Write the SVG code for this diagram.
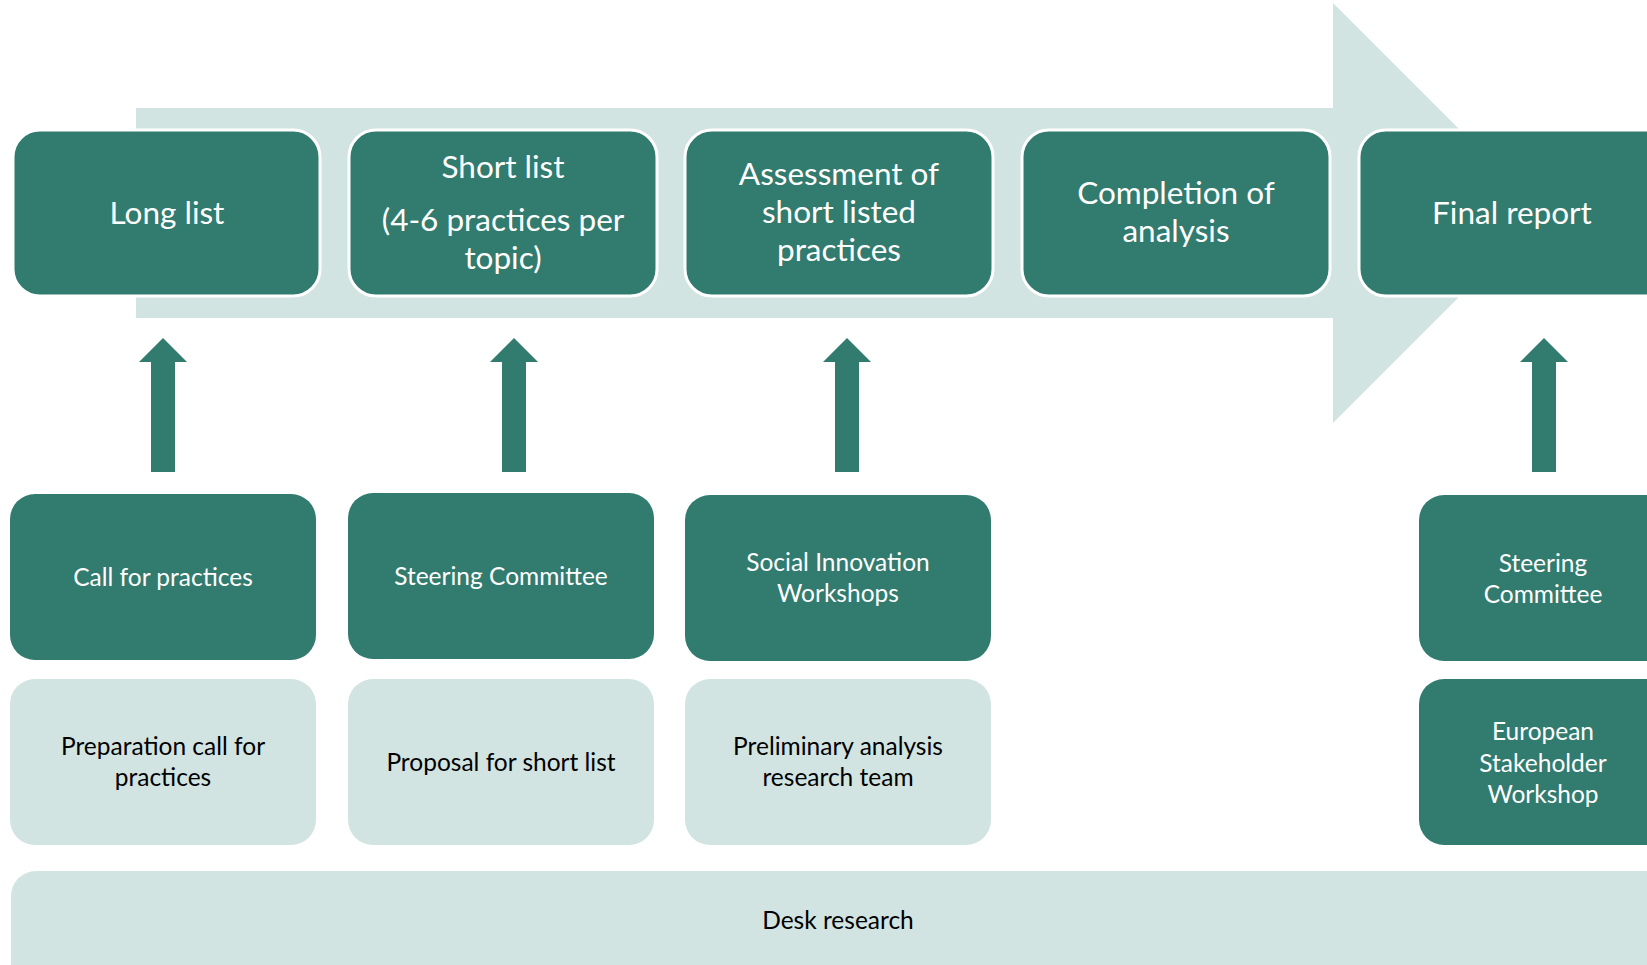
<svg xmlns="http://www.w3.org/2000/svg" width="1647" height="965" viewBox="0 0 1647 965">
<style>
.dk{fill:#327B6F}
.top{fill:#327B6F;stroke:#FFFFFF;stroke-width:3}
.lt{fill:#D2E4E1}
.tw{font-family:Lato,"Open Sans",sans-serif;fill:#FFFFFF;text-anchor:middle}
.tb{font-family:Lato,"Open Sans",sans-serif;fill:#000000;text-anchor:middle}
.big{font-size:31.5px}
.sm{font-size:24.5px}
</style>
<rect width="1647" height="965" fill="#FFFFFF"/>
<g id="process-arrow">
<polygon class="lt" points="136,108 1333,108 1333,3 1543,213 1333,423 1333,318 136,318"/>
</g>
<g id="desk-research">
<rect class="lt" x="11" y="871" width="1680" height="140" rx="25"/>
<text class="tb sm" x="838" y="929">Desk research</text>
</g>
<g id="long-list">
<rect class="top" x="13" y="130" width="307" height="166" rx="27"/>
<text class="tw big" x="167" y="224">Long list</text>
</g>
<g id="short-list">
<rect class="top" x="349" y="130" width="308" height="166" rx="27"/>
<text class="tw big" x="503" y="178">Short list</text>
<text class="tw big" x="503" y="231">(4-6 practices per</text>
<text class="tw big" x="503" y="269">topic)</text>
</g>
<g id="assessment">
<rect class="top" x="685" y="130" width="308" height="166" rx="27"/>
<text class="tw big" x="839" y="185">Assessment of</text>
<text class="tw big" x="839" y="223">short listed</text>
<text class="tw big" x="839" y="261">practices</text>
</g>
<g id="completion">
<rect class="top" x="1022" y="130" width="308" height="166" rx="27"/>
<text class="tw big" x="1176" y="204">Completion of</text>
<text class="tw big" x="1176" y="242">analysis</text>
</g>
<g id="final-report">
<rect class="top" x="1359" y="130" width="330" height="166" rx="27"/>
<text class="tw big" x="1512" y="224">Final report</text>
</g>
<g id="connectors">
<polygon class="dk" points="163,338 187,362 175,362 175,472 151,472 151,362 139,362"/>
<polygon class="dk" points="514,338 538,362 526,362 526,472 502,472 502,362 490,362"/>
<polygon class="dk" points="847,338 871,362 859,362 859,472 835,472 835,362 823,362"/>
<polygon class="dk" points="1544,338 1568,362 1556,362 1556,472 1532,472 1532,362 1520,362"/>
</g>
<g id="call-for-practices">
<rect class="dk" x="10" y="494" width="306" height="166" rx="25"/>
<text class="tw sm" x="163" y="586">Call for practices</text>
</g>
<g id="steering-committee-1">
<rect class="dk" x="348" y="493" width="306" height="166" rx="25"/>
<text class="tw sm" x="501" y="585">Steering Committee</text>
</g>
<g id="social-innovation">
<rect class="dk" x="685" y="495" width="306" height="166" rx="25"/>
<text class="tw sm" x="838" y="571">Social Innovation</text>
<text class="tw sm" x="838" y="602">Workshops</text>
</g>
<g id="steering-committee-2">
<rect class="dk" x="1419" y="495" width="260" height="166" rx="25"/>
<text class="tw sm" x="1543" y="572">Steering</text>
<text class="tw sm" x="1543" y="603">Committee</text>
</g>
<g id="preparation">
<rect class="lt" x="10" y="679" width="306" height="166" rx="25"/>
<text class="tb sm" x="163" y="755">Preparation call for</text>
<text class="tb sm" x="163" y="786">practices</text>
</g>
<g id="proposal">
<rect class="lt" x="348" y="679" width="306" height="166" rx="25"/>
<text class="tb sm" x="501" y="771">Proposal for short list</text>
</g>
<g id="preliminary">
<rect class="lt" x="685" y="679" width="306" height="166" rx="25"/>
<text class="tb sm" x="838" y="755">Preliminary analysis</text>
<text class="tb sm" x="838" y="786">research team</text>
</g>
<g id="european-workshop">
<rect class="dk" x="1419" y="679" width="260" height="166" rx="25"/>
<text class="tw sm" x="1543" y="740">European</text>
<text class="tw sm" x="1543" y="772">Stakeholder</text>
<text class="tw sm" x="1543" y="803">Workshop</text>
</g>
</svg>
